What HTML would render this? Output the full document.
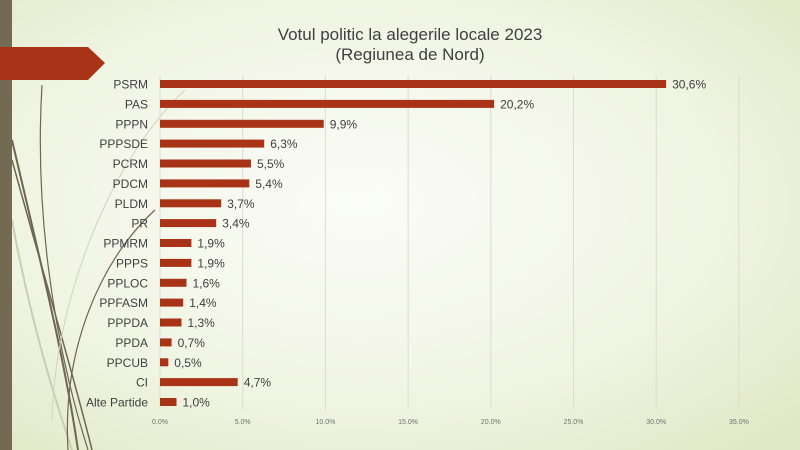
<!DOCTYPE html>
<html><head><meta charset="utf-8"><style>
html,body{margin:0;padding:0;width:800px;height:450px;overflow:hidden}
svg{display:block}
text{font-family:"Liberation Sans",sans-serif}
</style></head><body>
<svg width="800" height="450" xmlns="http://www.w3.org/2000/svg">
<defs>
<radialGradient id="bg" cx="0.45" cy="0.45" r="0.75">
<stop offset="0" stop-color="#fbfcf7"/><stop offset="0.6" stop-color="#f0f4e2"/><stop offset="1" stop-color="#dfe8c4"/>
</radialGradient>
</defs>
<rect width="800" height="450" fill="url(#bg)"/>
<g fill="none">
<path d="M12 140 C40 260 65 360 78 450" stroke="#6e6650" stroke-width="2"/>
<path d="M12 160 C45 280 75 380 92 450" stroke="#6e6650" stroke-width="1.5"/>
<path d="M42 85 C35 200 50 330 88 450" stroke="#6e6650" stroke-width="1.2"/>
<path d="M12 220 C30 320 55 400 72 450" stroke="#c9cfb0" stroke-width="2"/>
<path d="M155 210 C100 260 62 350 68 450" stroke="#6e6650" stroke-width="1.2"/>
<path d="M185 90 C110 160 55 300 52 420" stroke="#cfd4bc" stroke-width="1"/>
</g>
<rect x="0" y="0" width="12" height="450" fill="#726a52"/>
<polygon points="0,47 88,47 105,63 88,80 0,80" fill="#a83316"/>
<text x="410" y="40" font-size="17" fill="#404040" text-anchor="middle">Votul politic la alegerile locale 2023</text>
<text x="410" y="60" font-size="17" fill="#404040" text-anchor="middle">(Regiunea de Nord)</text>
<g stroke="#dcdccf" stroke-width="1">
<line x1="160" y1="75" x2="160" y2="410"/><line x1="242.7" y1="75" x2="242.7" y2="410"/><line x1="325.4" y1="75" x2="325.4" y2="410"/><line x1="408.1" y1="75" x2="408.1" y2="410"/><line x1="490.8" y1="75" x2="490.8" y2="410"/><line x1="573.5" y1="75" x2="573.5" y2="410"/><line x1="656.2" y1="75" x2="656.2" y2="410"/><line x1="738.9" y1="75" x2="738.9" y2="410"/>
</g>
<g font-size="7" fill="#707070" text-anchor="middle">
<text x="160" y="424">0.0%</text><text x="242.7" y="424">5.0%</text><text x="325.4" y="424">10.0%</text><text x="408.1" y="424">15.0%</text><text x="490.8" y="424">20.0%</text><text x="573.5" y="424">25.0%</text><text x="656.2" y="424">30.0%</text><text x="738.9" y="424">35.0%</text>
</g>
<g fill="#a83316">
<rect x="160" y="80" width="506.1" height="8"/>
<rect x="160" y="99.9" width="334.1" height="8"/>
<rect x="160" y="119.8" width="163.7" height="8"/>
<rect x="160" y="139.6" width="104.2" height="8"/>
<rect x="160" y="159.5" width="91" height="8"/>
<rect x="160" y="179.4" width="89.3" height="8"/>
<rect x="160" y="199.3" width="61.2" height="8"/>
<rect x="160" y="219.1" width="56.2" height="8"/>
<rect x="160" y="239" width="31.4" height="8"/>
<rect x="160" y="258.9" width="31.4" height="8"/>
<rect x="160" y="278.8" width="26.5" height="8"/>
<rect x="160" y="298.6" width="23.2" height="8"/>
<rect x="160" y="318.5" width="21.5" height="8"/>
<rect x="160" y="338.4" width="11.6" height="8"/>
<rect x="160" y="358.3" width="8.3" height="8"/>
<rect x="160" y="378.1" width="77.7" height="8"/>
<rect x="160" y="398" width="16.5" height="8"/>
</g>
<g font-size="12" fill="#404040" text-anchor="end">
<text x="148" y="88.5">PSRM</text>
<text x="148" y="108.4">PAS</text>
<text x="148" y="128.3">PPPN</text>
<text x="148" y="148.1">PPPSDE</text>
<text x="148" y="168">PCRM</text>
<text x="148" y="187.9">PDCM</text>
<text x="148" y="207.8">PLDM</text>
<text x="148" y="227.6">PR</text>
<text x="148" y="247.5">PPMRM</text>
<text x="148" y="267.4">PPPS</text>
<text x="148" y="287.3">PPLOC</text>
<text x="148" y="307.1">PPFASM</text>
<text x="148" y="327">PPPDA</text>
<text x="148" y="346.9">PPDA</text>
<text x="148" y="366.8">PPCUB</text>
<text x="148" y="386.6">CI</text>
<text x="148" y="406.5">Alte Partide</text>
</g>
<g font-size="12" fill="#404040">
<text x="672.1" y="88.5">30,6%</text>
<text x="500.1" y="108.4">20,2%</text>
<text x="329.7" y="128.3">9,9%</text>
<text x="270.2" y="148.1">6,3%</text>
<text x="257" y="168">5,5%</text>
<text x="255.3" y="187.9">5,4%</text>
<text x="227.2" y="207.8">3,7%</text>
<text x="222.2" y="227.6">3,4%</text>
<text x="197.4" y="247.5">1,9%</text>
<text x="197.4" y="267.4">1,9%</text>
<text x="192.5" y="287.3">1,6%</text>
<text x="189.2" y="307.1">1,4%</text>
<text x="187.5" y="327">1,3%</text>
<text x="177.6" y="346.9">0,7%</text>
<text x="174.3" y="366.8">0,5%</text>
<text x="243.7" y="386.6">4,7%</text>
<text x="182.5" y="406.5">1,0%</text>
</g>
</svg>
</body></html>
